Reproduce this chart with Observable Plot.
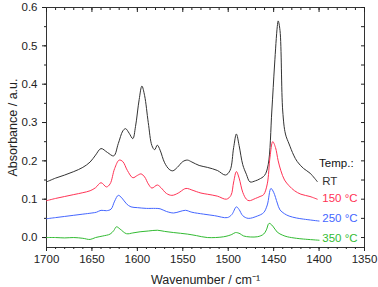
<!DOCTYPE html>
<html><head><meta charset="utf-8">
<script src="https://cdn.jsdelivr.net/npm/d3@7"></script>
<script src="https://cdn.jsdelivr.net/npm/@observablehq/plot@0.6"></script>
<style>body{margin:0;background:#fff}</style>
</head><body><div id="chart"></div>
<script>
const seriesNames = ["RT", "150 °C", "250 °C", "350 °C"];
const seriesColors = ["#333333", "#ff3355", "#4466ff", "#33bb33"];
const legendTitle = "Temp.:";
const xTicks = [1700, 1650, 1600, 1550, 1500, 1450, 1400, 1350];
const yTicks = [0.0, 0.1, 0.2, 0.3, 0.4, 0.5, 0.6];

const wnRT = [1700,1690,1680,1670,1660,1652,1646,1640,1633,1626,1621,1616,1613,1609,1605,1602,1598,1595,1592,1588,1584,1581,1578,1575,1570,1565,1561,1556,1550,1545,1540,1532,1523,1512,1503,1498,1494,1491,1488,1484,1480,1476,1470,1466,1460,1456,1452,1449,1446,1445,1443,1440,1437,1433,1428,1424,1417,1410,1402];
const absRT = [0.145,0.155,0.163,0.172,0.183,0.197,0.215,0.232,0.222,0.213,0.245,0.278,0.284,0.272,0.258,0.290,0.360,0.395,0.370,0.300,0.240,0.229,0.241,0.228,0.195,0.178,0.174,0.183,0.198,0.202,0.197,0.188,0.183,0.175,0.163,0.175,0.235,0.270,0.240,0.190,0.165,0.145,0.148,0.152,0.162,0.190,0.330,0.450,0.550,0.565,0.540,0.330,0.270,0.244,0.215,0.198,0.180,0.168,0.146];

const wn150 = [1700,1690,1680,1670,1660,1652,1646,1640,1634,1630,1625,1620,1616,1611,1605,1600,1596,1592,1588,1584,1578,1574,1568,1562,1555,1548,1545,1540,1530,1523,1512,1502,1497,1494,1491,1488,1484,1480,1477,1470,1465,1461,1457,1454,1451,1448,1445,1442,1438,1433,1427,1420,1410,1402];
const abs150 = [0.096,0.102,0.107,0.112,0.117,0.122,0.130,0.143,0.132,0.140,0.180,0.202,0.198,0.175,0.156,0.162,0.166,0.158,0.140,0.129,0.137,0.130,0.115,0.110,0.116,0.127,0.128,0.124,0.116,0.113,0.108,0.100,0.110,0.145,0.172,0.155,0.118,0.100,0.096,0.102,0.107,0.112,0.140,0.210,0.250,0.235,0.200,0.174,0.150,0.135,0.122,0.113,0.107,0.100];

const wn250 = [1700,1690,1680,1670,1660,1650,1645,1640,1634,1629,1625,1621,1617,1612,1607,1600,1590,1580,1575,1568,1560,1553,1547,1540,1527,1515,1501,1496,1491,1488,1484,1478,1468,1461,1457,1453,1450,1446,1443,1438,1433,1425,1417,1400];
const abs250 = [0.049,0.052,0.055,0.058,0.061,0.064,0.066,0.071,0.070,0.074,0.095,0.110,0.103,0.088,0.080,0.078,0.076,0.076,0.075,0.068,0.064,0.068,0.071,0.066,0.061,0.057,0.052,0.060,0.080,0.073,0.057,0.050,0.056,0.065,0.085,0.128,0.118,0.090,0.072,0.062,0.056,0.051,0.048,0.043];

const wn350 = [1700,1690,1680,1670,1660,1652,1646,1638,1630,1626,1623,1619,1612,1605,1597,1588,1578,1570,1560,1545,1535,1523,1505,1496,1492,1487,1483,1468,1461,1458,1455,1451,1446,1440,1435,1425,1417,1400];
const abs350 = [0.000,0.000,-0.001,0.000,-0.002,-0.005,0.000,0.004,0.009,0.018,0.028,0.022,0.010,0.012,0.015,0.017,0.019,0.016,0.013,0.009,0.005,0.000,0.002,0.008,0.013,0.010,0.004,0.002,0.009,0.020,0.037,0.030,0.014,0.006,0.002,-0.002,-0.004,-0.007];

const wns = [wnRT, wn150, wn250, wn350];
const abss = [absRT, abs150, abs250, abs350];
const rows = [];
seriesNames.forEach((s, i) => wns[i].forEach((w, j) => rows.push({series: s, wn: w, a: abss[i][j]})));
const labelRows = seriesNames.map((s, i) => ({series: s, a: abss[i][abss[i].length - 1], color: seriesColors[i]}));
const labelShift = {"RT": 0, "150 °C": -1, "250 °C": -3, "350 °C": -2};

const font = "'Liberation Sans', Arial, sans-serif";
const blank = () => "";
const chart = Plot.plot({
  width: 378, height: 287,
  marginLeft: 46, marginRight: 14, marginTop: 7, marginBottom: 40,
  style: {fontFamily: font, fontSize: "11.5px", color: "#222", background: "#fff"},
  x: {domain: [1700, 1350]},
  y: {domain: [-0.026, 0.6]},
  color: {domain: seriesNames, range: seriesColors},
  marks: [
    Plot.frame({stroke: "#333", strokeWidth: 1}),
    Plot.axisX({anchor: "bottom", ticks: xTicks, tickSize: 4, tickPadding: 3, tickFormat: d => String(d), label: "Wavenumber / cm⁻¹", labelAnchor: "center", labelOffset: 36, labelArrow: "none"}),
    Plot.axisX({anchor: "bottom", ticks: d3.range(1350, 1701, 10), tickSize: 2, tickFormat: blank, label: null}),
    Plot.axisX({anchor: "top", ticks: xTicks, tickSize: -4, tickFormat: blank, label: null}),
    Plot.axisX({anchor: "top", ticks: d3.range(1350, 1701, 10), tickSize: -2, tickFormat: blank, label: null}),
    Plot.axisY({anchor: "left", ticks: yTicks, tickSize: 4, tickPadding: 5, tickFormat: d3.format(".1f"), label: "Absorbance / a.u.", labelAnchor: "center", labelOffset: 38, labelArrow: "none"}),
    Plot.axisY({anchor: "left", ticks: d3.range(0, 0.61, 0.05), tickSize: 2, tickFormat: blank, label: null}),
    Plot.axisY({anchor: "right", ticks: d3.range(0, 0.61, 0.05), tickSize: -4, tickFormat: blank, label: null}),
    Plot.line(rows, {x: "wn", y: "a", z: "series", stroke: "series", strokeWidth: 1, curve: "catmull-rom"}),
    Plot.text([legendTitle], {x: 1400, y: labelRows[0].a + 0.047, text: d => d, textAnchor: "start", fontSize: 11.5, fill: "#111"}),
    ...labelRows.map(r => Plot.text([r], {x: 1396.5, y: "a", text: "series", fill: r.color, textAnchor: "start", fontSize: 11.5, dy: labelShift[r.series]})),
  ]
});
chart.querySelectorAll("g[aria-label='x-axis label'] text, g[aria-label='y-axis label'] text").forEach(t => t.setAttribute("font-size", "12.5"));
document.getElementById("chart").appendChild(chart);
</script>
</body></html>
